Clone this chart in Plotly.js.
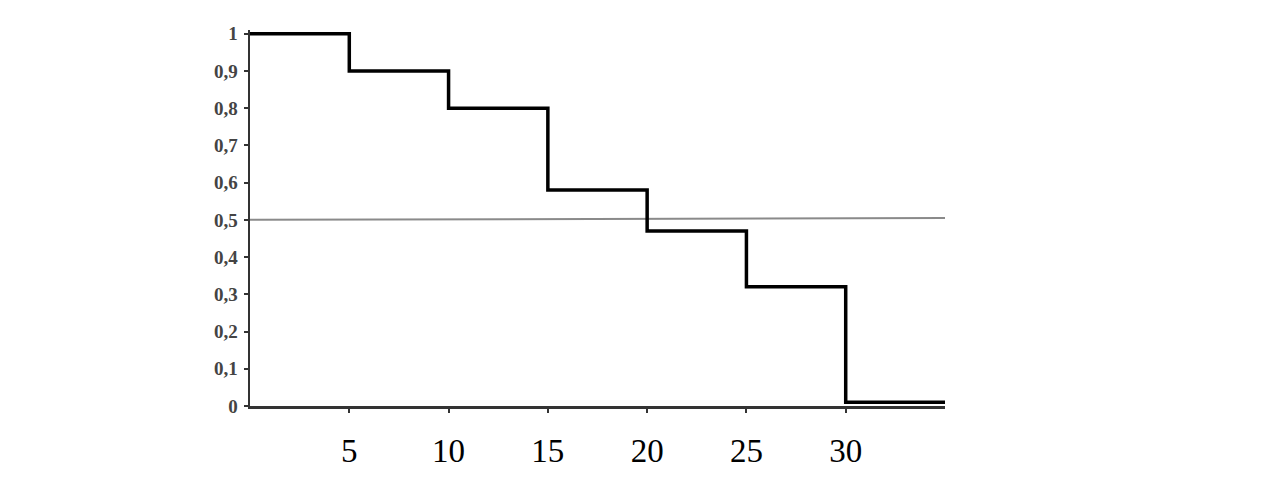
<!DOCTYPE html>
<html>
<head>
<meta charset="utf-8">
<script src="https://cdn.plot.ly/plotly-3.0.1.min.js"></script>
<style>html,body{margin:0;padding:0;background:#fff;}#chart{width:1284px;height:504px;}</style>
</head>
<body>
<div id="chart"></div>
<script>
var stepX = [0, 5, 10, 15, 20, 25, 30, 35];
var stepY = [1, 0.9, 0.8, 0.58, 0.47, 0.32, 0.01, 0.01];
var refX = [0, 35];
var refY = [0.5, 0.505];
var xTickVals = [5, 10, 15, 20, 25, 30];
var xTickText = ['5', '10', '15', '20', '25', '30'];
var yTickVals = [0, 0.1, 0.2, 0.3, 0.4, 0.5, 0.6, 0.7, 0.8, 0.9, 1];
var yTickText = ['0', '0,1', '0,2', '0,3', '0,4', '0,5', '0,6', '0,7', '0,8', '0,9', '1'];

var traces = [
  {x: refX, y: refY, mode: 'lines', line: {color: '#8a8a8a', width: 2}, hoverinfo: 'skip'},
  {x: stepX, y: stepY, mode: 'lines', line: {shape: 'hv', color: '#000', width: 3.5}, hoverinfo: 'skip'}
];
var layout = {
  width: 1284, height: 504,
  margin: {l: 250, r: 339, t: 30, b: 98},
  paper_bgcolor: '#fff', plot_bgcolor: '#fff',
  showlegend: false,
  xaxis: {
    range: [0, 35], showgrid: false, zeroline: false,
    showline: true, linecolor: '#333', linewidth: 2.5,
    tickmode: 'array', tickvals: xTickVals, ticktext: xTickText,
    ticks: 'outside', ticklen: 4, tickwidth: 2, tickcolor: '#333',
    ticklabelstandoff: 10,
    tickfont: {family: 'Liberation Serif, Times New Roman, serif', size: 33, color: '#000'}
  },
  yaxis: {
    range: [0, 1.01], showgrid: false, zeroline: false,
    showline: true, linecolor: '#333', linewidth: 2.5,
    tickmode: 'array', tickvals: yTickVals, ticktext: yTickText,
    ticks: 'outside', ticklen: 4, tickwidth: 2, tickcolor: '#333',
    ticklabelstandoff: 2,
    tickfont: {family: 'Liberation Serif, Times New Roman, serif', size: 19, color: '#444', weight: 'bold'}
  }
};
Plotly.newPlot('chart', traces, layout, {staticPlot: true, displayModeBar: false});
</script>
</body>
</html>
